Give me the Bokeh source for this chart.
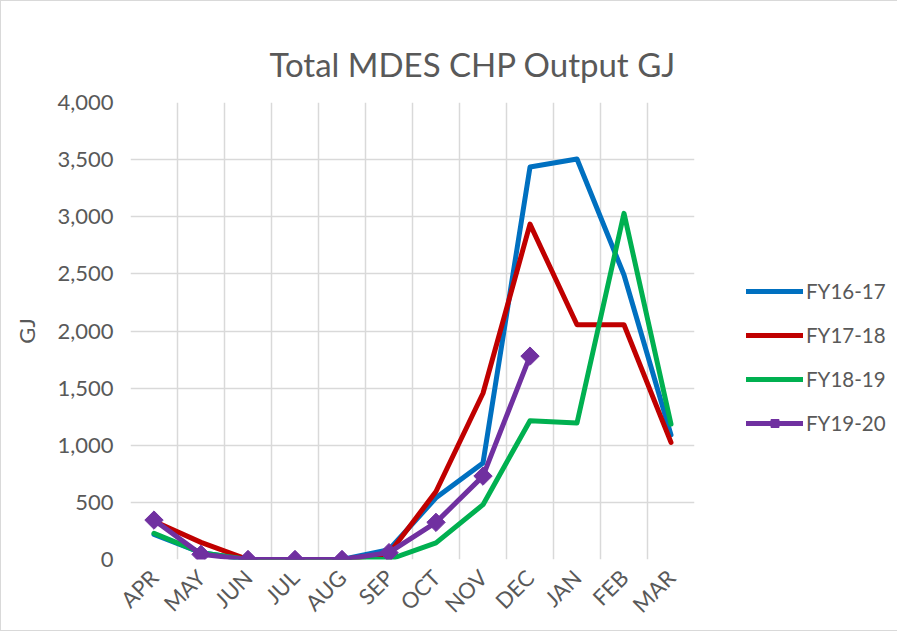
from bokeh.plotting import figure
from bokeh.models import FixedTicker, NumeralTickFormatter, Legend, LegendItem, Range1d
from bokeh.embed import file_html
from bokeh.resources import INLINE

months = ["APR", "MAY", "JUN", "JUL", "AUG", "SEP", "OCT", "NOV", "DEC", "JAN", "FEB", "MAR"]
fy1617 = [220, 60, 0, 0, 0, 85, 540, 845, 3435, 3505, 2490, 1090]
fy1718 = [335, 150, 0, 0, 0, 50, 595, 1455, 2935, 2055, 2055, 1025]
fy1819 = [230, 60, 0, 0, 0, 0, 145, 480, 1215, 1195, 3030, 1185]
fy1920 = [345, 45, 0, 0, 0, 60, 325, 730, 1780]
series_names = ["FY16-17", "FY17-18", "FY18-19", "FY19-20"]
colors = ["#0070C0", "#C00000", "#00B050", "#7030A0"]
y_ticks = [0, 500, 1000, 1500, 2000, 2500, 3000, 3500, 4000]

FONT = "Lato"
TXT = "#595959"
GRID = "#D9D9D9"

x_idx = list(range(1, len(months) + 1))

p = figure(frame_width=564, frame_height=457, output_backend="svg", toolbar_location=None,
           x_range=Range1d(0.5, 12.5), y_range=Range1d(0, 4000),
           min_border_left=129, min_border_right=196, min_border_top=101, min_border_bottom=69,
           title="Total MDES CHP Output GJ")
p.title.align = "left"
p.title.vertical_align = "top"
p.title.offset = 139
p.title.text_font = FONT
p.title.text_font_size = "33px"
p.title.text_font_style = "normal"
p.title.text_color = TXT
p.title.standoff = 34
p.outline_line_color = None
p.styles = {"border": "1px solid #D9D9D9"}

p.xaxis.ticker = FixedTicker(ticks=x_idx)
p.xaxis.major_label_overrides = {i: m for i, m in zip(x_idx, months)}
p.xaxis.major_label_orientation = 0.785398
p.xaxis.axis_line_color = None
p.xaxis.major_tick_line_color = None
p.xaxis.minor_tick_line_color = None
p.xaxis.major_label_text_font = FONT
p.xaxis.major_label_text_font_size = "22px"
p.xaxis.major_label_text_color = TXT
p.xaxis.major_label_standoff = 8

p.yaxis.ticker = FixedTicker(ticks=y_ticks)
p.yaxis.formatter = NumeralTickFormatter(format="0,0")
p.yaxis.axis_line_color = None
p.yaxis.major_tick_line_color = None
p.yaxis.minor_tick_line_color = None
p.yaxis.major_label_text_font = FONT
p.yaxis.major_label_text_font_size = "22px"
p.yaxis.major_label_text_color = TXT
p.yaxis.major_label_standoff = 11
p.yaxis.axis_label = "GJ"
p.yaxis.axis_label_text_font = FONT
p.yaxis.axis_label_text_font_size = "22px"
p.yaxis.axis_label_text_font_style = "normal"
p.yaxis.axis_label_text_color = TXT
p.yaxis.axis_label_standoff = 14

p.xgrid.ticker = FixedTicker(ticks=[i + 0.5 for i in range(0, 13)])
p.xgrid.grid_line_color = GRID
p.xgrid.grid_line_width = 1.5
p.ygrid.grid_line_color = GRID
p.ygrid.grid_line_width = 1.5

items = []
data = [fy1617, fy1718, fy1819, fy1920]
for name, col, vals in zip(series_names, colors, data):
    xs = x_idx[:len(vals)]
    r = p.line(xs, vals, line_color=col, line_width=5, line_cap="round", line_join="round")
    rs = [r]
    if name == "FY19-20":
        s = p.scatter(xs, vals, marker="square", angle=0.785398, size=13,
                      fill_color=col, line_color=col)
        rs.append(s)
    items.append(LegendItem(label=name, renderers=rs))

legend = Legend(items=items, location=(52, 124))
legend.label_text_font = FONT
legend.label_text_font_size = "20.5px"
legend.label_text_color = TXT
legend.glyph_width = 57
legend.glyph_height = 20
legend.label_standoff = 3
legend.spacing = 20
legend.padding = 0
legend.margin = 0
legend.border_line_color = None
legend.background_fill_alpha = 0
p.add_layout(legend, "right")

open("out.html", "w").write(file_html(p, INLINE))
